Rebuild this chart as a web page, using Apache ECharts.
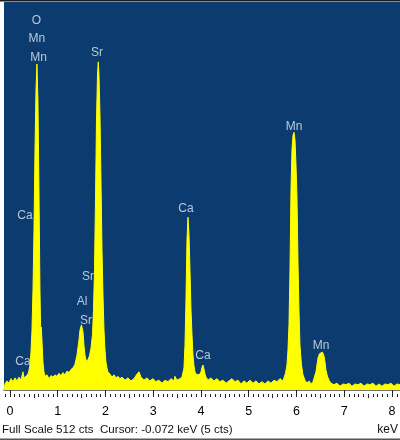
<!DOCTYPE html>
<html>
<head>
<meta charset="utf-8">
<title>EDS spectrum</title>
<script src="https://cdn.jsdelivr.net/npm/echarts@6.0.0/dist/echarts.min.js"></script>
<style>
  html, body { margin: 0; padding: 0; background: #ffffff; }
  #chart { width: 400px; height: 440px; }
</style>
</head>
<body>
<div id="chart"></div>
<script>
// Energy channels (keV) and counts of the EDS spectrum
const energyKeV = [
  -0.125, -0.105, -0.063, -0.021, 0.021, 0.063, 0.105, 0.147, 0.188, 0.230,
  0.272, 0.293, 0.335, 0.377, 0.398, 0.419, 0.440, 0.461, 0.482, 0.503,
  0.524, 0.545, 0.565, 0.586, 0.607, 0.628, 0.643, 0.656, 0.670, 0.691,
  0.712, 0.733, 0.775, 0.817, 0.859, 0.901, 0.942, 0.984, 1.026, 1.068,
  1.110, 1.152, 1.194, 1.236, 1.277, 1.319, 1.361, 1.403, 1.445, 1.466,
  1.497, 1.529, 1.550, 1.571, 1.592, 1.613, 1.634, 1.665, 1.696, 1.728,
  1.749, 1.770, 1.791, 1.812, 1.833, 1.849, 1.864, 1.885, 1.906, 1.927,
  1.948, 1.969, 1.990, 2.010, 2.031, 2.052, 2.094, 2.136, 2.178, 2.220,
  2.262, 2.304, 2.346, 2.408, 2.471, 2.534, 2.597, 2.660, 2.702, 2.743,
  2.806, 2.869, 2.932, 2.995, 3.058, 3.120, 3.183, 3.246, 3.309, 3.372,
  3.434, 3.455, 3.497, 3.560, 3.602, 3.623, 3.644, 3.665, 3.686, 3.707,
  3.728, 3.749, 3.770, 3.791, 3.812, 3.833, 3.853, 3.874, 3.895, 3.937,
  3.979, 4.000, 4.021, 4.042, 4.063, 4.084, 4.105, 4.147, 4.209, 4.272,
  4.335, 4.398, 4.461, 4.524, 4.586, 4.649, 4.712, 4.775, 4.838, 4.901,
  4.963, 5.026, 5.089, 5.152, 5.215, 5.277, 5.340, 5.403, 5.466, 5.529,
  5.592, 5.654, 5.717, 5.738, 5.770, 5.801, 5.822, 5.843, 5.864, 5.885,
  5.906, 5.927, 5.948, 5.969, 5.990, 6.010, 6.031, 6.052, 6.073, 6.105,
  6.136, 6.178, 6.220, 6.262, 6.304, 6.346, 6.387, 6.408, 6.429, 6.450,
  6.482, 6.513, 6.545, 6.576, 6.597, 6.618, 6.649, 6.681, 6.723, 6.785,
  6.848, 6.911, 6.974, 7.037, 7.099, 7.162, 7.225, 7.288, 7.351, 7.414,
  7.476, 7.539, 7.602, 7.665, 7.728, 7.791, 7.853, 7.916, 7.979, 8.042,
  8.105, 8.168
];
const counts = [
  0, 8, 12, 9, 15, 11, 16, 12, 17, 13,
  24, 16, 18, 21, 26, 33, 50, 79, 132, 211,
  317, 396, 430, 383, 264, 132, 79, 83, 66, 37,
  24, 18, 20, 15, 19, 17, 20, 18, 22, 19,
  23, 20, 25, 23, 27, 29, 34, 46, 66, 79,
  86, 77, 59, 46, 40, 37, 38, 45, 55, 73,
  106, 158, 251, 356, 416, 433, 416, 363, 277, 185,
  125, 79, 53, 37, 29, 24, 21, 17, 20, 16,
  18, 15, 17, 13, 16, 12, 15, 21, 24, 17,
  13, 16, 12, 15, 11, 13, 9, 13, 11, 15,
  12, 18, 13, 15, 17, 18, 29, 59, 119, 198,
  228, 205, 158, 106, 73, 46, 32, 24, 21, 20,
  21, 24, 30, 33, 28, 21, 17, 13, 16, 12,
  15, 11, 13, 9, 12, 15, 11, 13, 8, 12,
  9, 13, 9, 12, 8, 11, 8, 12, 9, 13,
  11, 15, 12, 13, 22, 33, 53, 86, 158, 264,
  317, 336, 340, 330, 297, 257, 172, 106, 59, 33,
  20, 13, 9, 12, 8, 11, 13, 24, 33, 42,
  48, 49, 50, 45, 37, 26, 18, 13, 9, 7,
  9, 5, 8, 7, 9, 5, 8, 7, 9, 5,
  8, 7, 9, 5, 8, 5, 8, 7, 9, 5,
  8, 7
];

// Element identification labels placed at (keV, counts)
const peakNames  = ['O', 'Mn', 'Mn', 'Sr', 'Ca', 'Sr', 'Al', 'Sr', 'Ca', 'Ca', 'Ca', 'Mn', 'Mn'];
const peakKeV    = [0.555, 0.565, 0.597, 1.822, 0.314, 1.634, 1.508, 1.592, 0.272, 3.686, 4.042, 5.948, 6.513];
const peakCounts = [488, 463, 439, 445, 230, 149, 117, 92, 38, 239, 45, 348, 59];

// Energy ruler
const tickLabels = [0, 1, 2, 3, 4, 5, 6, 7, 8];
const fullScale = 512;
const footerText = 'Full Scale 512 cts  Cursor: -0.072 keV (5 cts)';
const unitText = 'keV';

const xMin = -0.125, xMax = 8.168;

const minorTicks = [];
for (let i = -1; i <= 81; i++) minorTicks.push(+(i / 10).toFixed(1));
const halfTicks = tickLabels.map(v => v + 0.5);

const spectrum = energyKeV.map((e, i) => [e, counts[i]]);
const peakData = peakNames.map((n, i) => ({ name: n, value: [peakKeV[i], peakCounts[i]] }));

const chart = echarts.init(document.getElementById('chart'), null, { renderer: 'canvas' });

const rulerAxis = (ticks, len, extra) => Object.assign({
  type: 'value', min: xMin, max: xMax, position: 'bottom', offset: 4,
  axisLine: { show: false },
  axisTick: { show: true, length: len, customValues: ticks, lineStyle: { color: '#222222' } },
  axisLabel: { show: false },
  splitLine: { show: false }
}, extra || {});

chart.setOption({
  animation: false,
  backgroundColor: '#ffffff',
  grid: {
    left: 4, right: 0, top: 2, bottom: 50,
    show: true, backgroundColor: '#0b3b6f', borderWidth: 0
  },
  xAxis: [
    rulerAxis(tickLabels, 7, {
      axisLine: { show: true, lineStyle: { color: '#444444', width: 1.5 } },
      axisLabel: {
        show: true, customValues: tickLabels, margin: 11,
        color: '#000000', fontFamily: 'Liberation Sans, Arial, sans-serif', fontSize: 12.5
      }
    }),
    rulerAxis(minorTicks, 3),
    rulerAxis(halfTicks, 4)
  ],
  yAxis: {
    type: 'value', min: 0, max: fullScale,
    show: false, splitLine: { show: false }
  },
  series: [
    {
      type: 'line',
      xAxisIndex: 0,
      data: spectrum,
      symbol: 'none',
      smooth: false,
      lineStyle: { color: '#ffff00', width: 1 },
      areaStyle: { color: '#ffff00', opacity: 1 },
      z: 2
    },
    {
      type: 'scatter',
      xAxisIndex: 0,
      data: peakData,
      symbolSize: 0,
      silent: true,
      label: {
        show: true,
        formatter: '{b}',
        position: [0, 0],
        align: 'center',
        verticalAlign: 'middle',
        color: '#e2e9f1',
        fontFamily: 'Liberation Sans, Arial, sans-serif',
        fontSize: 12
      },
      z: 3
    }
  ],
  graphic: [
    { type: 'rect', shape: { x: 0, y: 0, width: 400, height: 1.5 }, style: { fill: '#1a1a1a' }, z: 10 },
    { type: 'rect', shape: { x: 0, y: 438.5, width: 400, height: 1.5 }, style: { fill: '#555555' }, z: 10 },
    {
      type: 'text', left: 2, top: 424,
      style: { text: footerText, fill: '#111111', font: '11.6px "Liberation Sans", Arial, sans-serif' }
    },
    {
      type: 'text', right: 2, top: 424,
      style: { text: unitText, fill: '#111111', font: '12px "Liberation Sans", Arial, sans-serif' }
    }
  ]
});
</script>
</body>
</html>
